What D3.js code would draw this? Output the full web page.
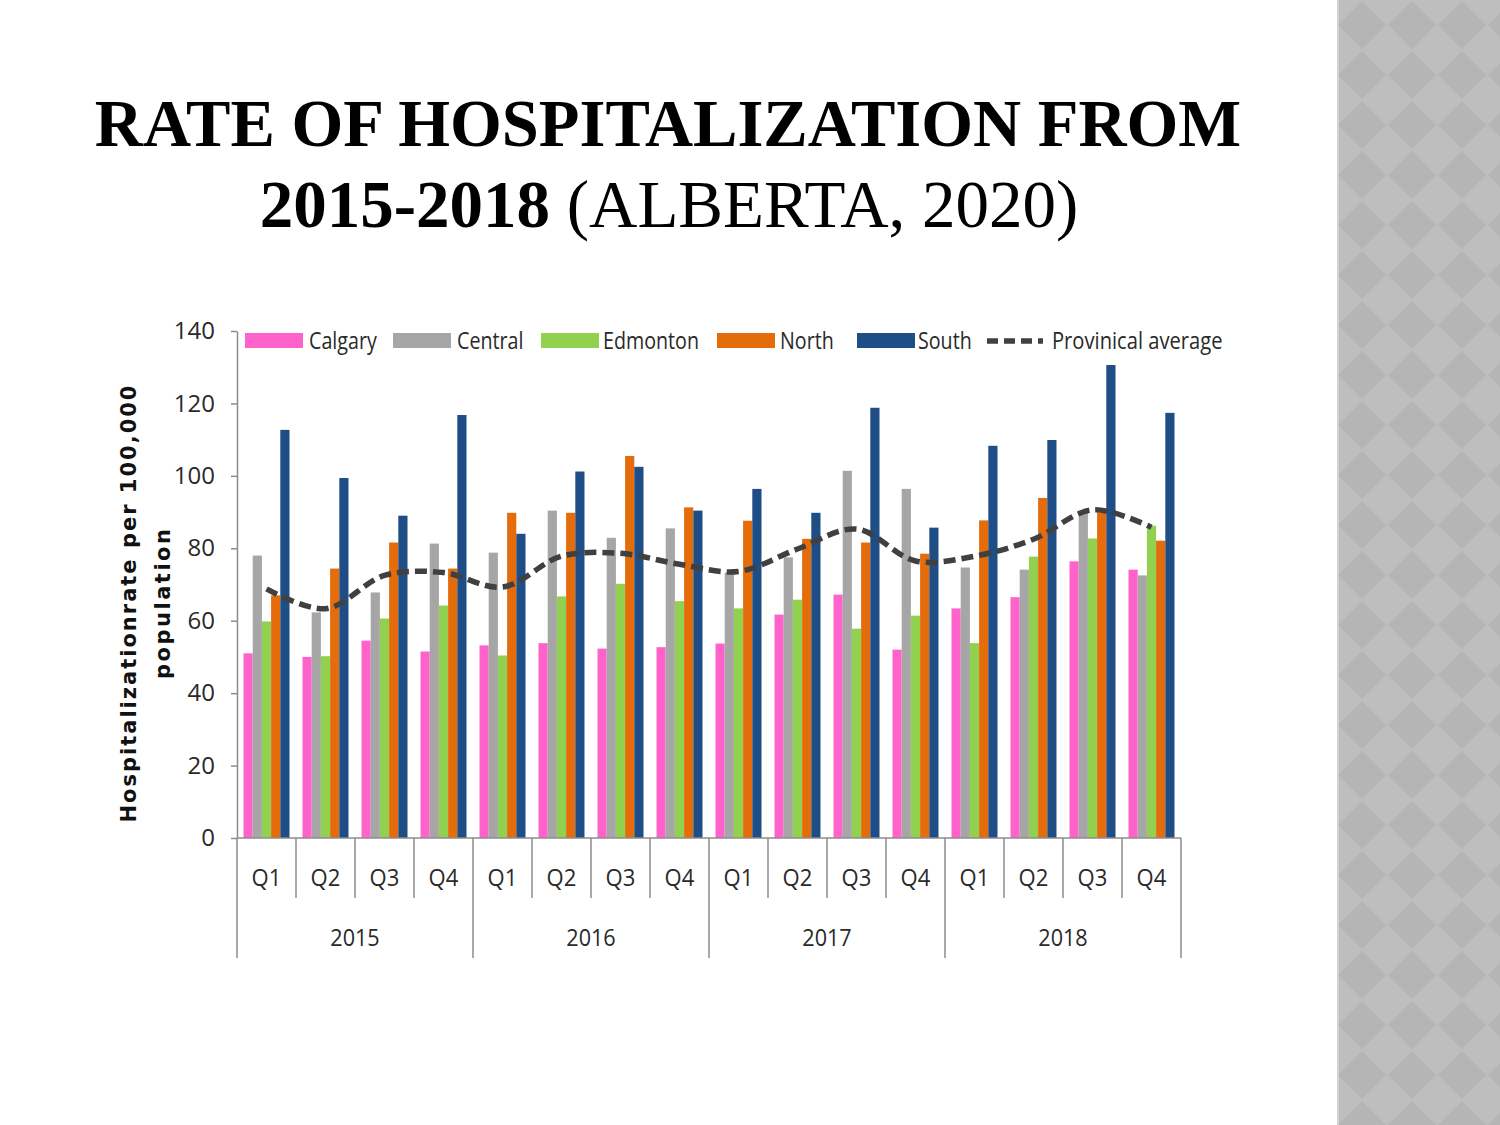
<!DOCTYPE html>
<html>
<head>
<meta charset="utf-8">
<script src="https://cdn.jsdelivr.net/npm/d3@7/dist/d3.min.js"></script>
<style>
  html, body { margin: 0; padding: 0; background: #fff; }
  svg { display: block; }
</style>
</head>
<body>
<svg id="chart" width="1500" height="1125"></svg>
<script>
// ---------------- data ----------------
const years = ["2015", "2016", "2017", "2018"];
const quarters = ["Q1", "Q2", "Q3", "Q4"];
const seriesNames = ["Calgary", "Central", "Edmonton", "North", "South"];
const calgary  = [51.0, 50.0, 54.5, 51.5, 53.2, 53.8, 52.3, 52.7, 53.7, 61.7, 67.2, 52.0, 63.4, 66.5, 76.4, 74.1];
const central  = [78.0, 62.3, 67.8, 81.3, 78.8, 90.4, 82.9, 85.5, 73.3, 77.5, 101.4, 96.4, 74.7, 74.1, 89.9, 72.5];
const edmonton = [59.8, 50.2, 60.6, 64.2, 50.4, 66.7, 70.2, 65.4, 63.4, 65.8, 57.8, 61.4, 53.8, 77.7, 82.7, 86.2];
const north    = [67.0, 74.4, 81.6, 74.4, 89.8, 89.8, 105.5, 91.3, 87.6, 82.6, 81.6, 78.5, 87.7, 93.9, 89.9, 82.1];
const south    = [112.7, 99.4, 89.0, 116.8, 84.0, 101.2, 102.5, 90.4, 96.4, 89.8, 118.8, 85.7, 108.3, 109.9, 130.6, 117.4];
const provincialAverage = [68.8, 63.3, 72.5, 73.3, 69.3, 77.8, 78.6, 75.6, 73.6, 79.8, 85.3, 76.5, 77.8, 82.5, 90.6, 85.8];
const yTicks = [0, 20, 40, 60, 80, 100, 120, 140];
const seriesColors = ["#ff63cb", "#a6a6a6", "#92d050", "#e46c0a", "#1f4e86"];
const avgLabel = "Provinical average";

const seriesValues = [calgary, central, edmonton, north, south];
const periods = [];
years.forEach(y => quarters.forEach(q => periods.push({ year: y, quarter: q, key: y + "-" + q })));

// ---------------- setup ----------------
const svg = d3.select("#chart");
const axisColor = "#8c8c8c";
const tickFont = "'Open Sans', sans-serif";

// background pattern strip on right
const defs = svg.append("defs");
const pat = defs.append("pattern")
  .attr("id", "diamonds")
  .attr("patternUnits", "userSpaceOnUse")
  .attr("x", 1337).attr("y", 0)
  .attr("width", 50).attr("height", 50);
pat.append("rect").attr("width", 50).attr("height", 50).attr("fill", "#bebebe");
pat.append("polygon").attr("points", "25,1 49,25 25,49 1,25").attr("fill", "#b5b5b5");
svg.append("rect").attr("x", 1337).attr("y", 0).attr("width", 163).attr("height", 1125).attr("fill", "url(#diamonds)");
svg.append("rect").attr("x", 1337).attr("y", 0).attr("width", 2).attr("height", 1125).attr("fill", "#d2d2d2");

// ---------------- title ----------------
const title = svg.append("g").attr("font-family", "'Liberation Serif', 'Times New Roman', serif").attr("fill", "#000");
title.append("text")
  .attr("x", 668).attr("y", 146)
  .attr("text-anchor", "middle")
  .attr("font-size", 66.6).attr("font-weight", "bold")
  .text("RATE OF HOSPITALIZATION FROM");
const t2 = title.append("text")
  .attr("x", 669).attr("y", 227)
  .attr("text-anchor", "middle")
  .attr("font-size", 67);
t2.append("tspan").attr("font-weight", "bold").text("2015-2018 ");
t2.append("tspan").attr("font-weight", "normal").text("(ALBERTA, 2020)");

// ---------------- scales ----------------
const x = d3.scaleBand().domain(periods.map(p => p.key)).range([237, 1181]).paddingInner(0).paddingOuter(0);
const xs = d3.scaleBand().domain(seriesNames).range([6.5, x.bandwidth() - 6.5]).padding(0);
const y = d3.scaleLinear().domain([0, 140]).range([838, 331]);

// ---------------- bars ----------------
const barG = svg.append("g");
seriesNames.forEach((name, si) => {
  barG.append("g").attr("fill", seriesColors[si])
    .selectAll("rect")
    .data(seriesValues[si])
    .join("rect")
    .attr("x", (d, i) => x(periods[i].key) + xs(name))
    .attr("y", d => y(d))
    .attr("width", xs.bandwidth())
    .attr("height", d => y(0) - y(d));
});

// ---------------- y axis ----------------
const yAxis = d3.axisLeft(y).tickValues(yTicks).tickSize(6).tickSizeOuter(0).tickPadding(16);
const yg = svg.append("g").attr("transform", "translate(237,0)").call(yAxis);
yg.select(".domain").attr("stroke", axisColor).attr("stroke-width", 1.5);
yg.selectAll(".tick line").attr("stroke", axisColor).attr("stroke-width", 1.5);
yg.selectAll(".tick text")
  .attr("font-family", tickFont).attr("font-size", 24).attr("fill", "#2a2a2a");

// y axis title
const yt = svg.append("g").attr("font-family", "'DejaVu Sans', Verdana, sans-serif").attr("font-weight", "bold").attr("font-size", 21).attr("fill", "#111");
yt.append("text").attr("transform", "translate(136,604) rotate(-90)").attr("text-anchor", "middle")
  .attr("textLength", 437).attr("lengthAdjust", "spacing").text("Hospitalizationrate per 100,000");
yt.append("text").attr("transform", "translate(170,604) rotate(-90)").attr("text-anchor", "middle")
  .attr("textLength", 150).attr("lengthAdjust", "spacing").text("population");

// ---------------- x axis ----------------
const xg = svg.append("g");
xg.append("line").attr("x1", 237).attr("x2", 1181).attr("y1", y(0)).attr("y2", y(0)).attr("stroke", axisColor).attr("stroke-width", 1.5);
xg.selectAll("line.q").data(periods).join("line").attr("class", "q")
  .attr("x1", d => x(d.key)).attr("x2", d => x(d.key))
  .attr("y1", y(0)).attr("y2", d => d.quarter === "Q1" ? 958 : 898)
  .attr("stroke", axisColor).attr("stroke-width", 1.5);
xg.append("line").attr("x1", 1181).attr("x2", 1181).attr("y1", y(0)).attr("y2", 958).attr("stroke", axisColor).attr("stroke-width", 1.5);
xg.selectAll("text.q").data(periods).join("text").attr("class", "q")
  .attr("transform", d => `translate(${x(d.key) + x.bandwidth() / 2},886) scale(0.92,1)`)
  .attr("text-anchor", "middle").attr("font-family", tickFont).attr("font-size", 24).attr("fill", "#2a2a2a")
  .text(d => d.quarter);
xg.selectAll("text.yr").data(years).join("text").attr("class", "yr")
  .attr("transform", yr => `translate(${x(yr + "-Q1") + x.bandwidth() * 2},946) scale(0.9,1)`)
  .attr("text-anchor", "middle").attr("font-family", tickFont).attr("font-size", 24).attr("fill", "#2a2a2a")
  .text(yr => yr);

// ---------------- average line ----------------
const line = d3.line()
  .x((d, i) => x(periods[i].key) + x.bandwidth() / 2)
  .y(d => y(d))
  .curve(d3.curveCatmullRom.alpha(0.5));
svg.append("path").datum(provincialAverage)
  .attr("d", line)
  .attr("fill", "none").attr("stroke", "#404040").attr("stroke-width", 5.5)
  .attr("stroke-dasharray", "12,6");

// ---------------- legend ----------------
const legendX = [245, 393, 541, 717, 857];
const legendTextX = [309, 457, 603, 780, 918];
const lg = svg.append("g").attr("font-family", tickFont).attr("font-size", 24).attr("fill", "#2a2a2a");
seriesNames.forEach((name, i) => {
  lg.append("rect").attr("x", legendX[i]).attr("y", 333).attr("width", 58).attr("height", 15).attr("fill", seriesColors[i]);
  lg.append("text").attr("transform", `translate(${legendTextX[i]},349) scale(0.82,1)`).text(name);
});
lg.append("line").attr("x1", 987).attr("x2", 1043).attr("y1", 341).attr("y2", 341)
  .attr("stroke", "#404040").attr("stroke-width", 5.5).attr("stroke-dasharray", "11,6");
lg.append("text").attr("transform", "translate(1052,349) scale(0.84,1)").text(avgLabel);
</script>
</body>
</html>
